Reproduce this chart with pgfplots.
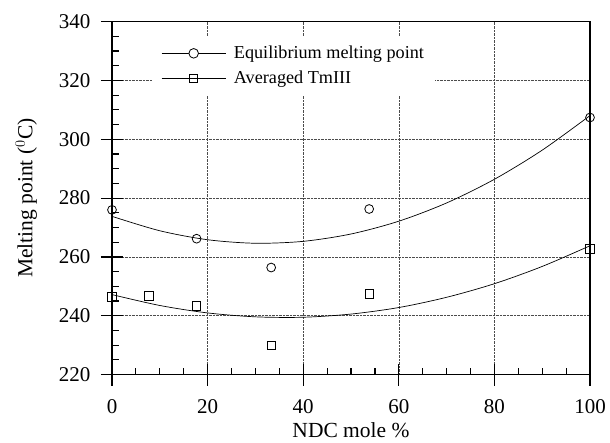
\documentclass[border=0pt]{standalone}
\usepackage{pgfplots}
\pgfplotsset{compat=1.18}
\usepackage{fontspec}
\setmainfont{Liberation Serif}
\begin{document}
\begin{tikzpicture}
\begin{axis}[
  name=ax,
  scale only axis,
  width=478pt, height=353pt,
  xmin=0, xmax=100, ymin=220, ymax=340,
  xtick={0,20,...,100}, ytick={220,240,...,340},
  minor x tick num=3, minor y tick num=3,
  tick pos=left,
  tick align=center,
  major tick length=22pt,
  minor tick length=7pt,
  minor x tick style={yshift=3.5pt},
  minor y tick style={xshift=3.5pt},
  tick style={black, line width=1.2pt},
  axis line style={line width=1.6pt},
  grid=major,
  major grid style={densely dotted, black!70, line width=0.6pt},
  /pgf/number format/assume math mode=true,
  ticklabel style={font=\fontsize{21}{24}\selectfont},
  xticklabel style={yshift=-10pt},
  yticklabel style={xshift=-7pt},
  xlabel={NDC mole \%},
  ylabel={Melting point ($^{0}$C)},
  label style={font=\fontsize{21.5}{25}\selectfont},
  xlabel style={yshift=-2pt},
  ylabel style={yshift=15pt},
  legend cell align=left,
  legend style={at={(rel axis cs:0.084,0.959)}, anchor=north west, draw=none, fill=white,
    font=\fontsize{18.2}{21}\selectfont, inner xsep=9pt, inner ysep=8pt, row sep=6.5pt},
]
\addplot[black, line width=0.7pt, smooth, forget plot] coordinates {
(0,273.8) (10,268.9) (20,265.85) (30,264.65) (40,265.3) (50,267.8) (60,272.15) (70,278.35) (80,286.4) (90,296.3) (100,308.05)};
\addplot[black, line width=0.7pt, smooth, forget plot] coordinates {
(0,247.2) (10,243.5) (20,240.97) (30,239.64) (40,239.5) (50,240.58) (60,242.8) (70,246.28) (80,250.9) (90,256.77) (100,263.8)};
\addplot[only marks, mark=o, mark size=4.4pt, mark options={line width=0.8pt, fill=white},
  legend image code/.code={\draw[black, line width=0.7pt] (0pt,0pt) -- (64pt,0pt);
    \draw[black, line width=0.8pt, fill=white] (32pt,0pt) circle (4.8pt);
    \path (70pt,0pt);}]
  coordinates {(0,276.0) (17.7,266.2) (33.3,256.4) (53.8,276.3) (100,307.4)};
\addlegendentry{Equilibrium melting point}
\addplot[only marks, mark=square, mark size=4.2pt, mark options={line width=0.8pt},
  legend image code/.code={\draw[black, line width=0.7pt] (0pt,0pt) -- (64pt,0pt);
    \draw[black, line width=0.8pt] (28pt,-4pt) rectangle (36pt,4pt);
    \path (70pt,0pt);}]
  coordinates {(0,246.4) (7.7,246.8) (17.7,243.4) (33.3,229.9) (53.8,247.4) (100,262.8)};
\addlegendentry{Averaged TmIII}
\end{axis}
\pgfresetboundingbox
\path[use as bounding box] ([xshift=-112pt,yshift=-68pt]ax.south west) rectangle ([xshift=20pt,yshift=21.6pt]ax.north east);
\end{tikzpicture}
\end{document}
